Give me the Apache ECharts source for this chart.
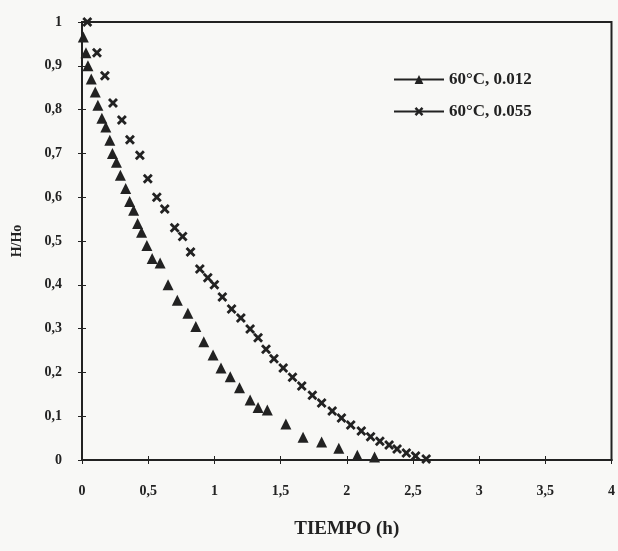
<!DOCTYPE html>
<html>
<head>
<meta charset="utf-8">
<script src="https://cdn.jsdelivr.net/npm/echarts@6/dist/echarts.min.js"></script>
<style>
  html, body { margin: 0; padding: 0; background: #f8f8f6; }
  #main { width: 618px; height: 551px; }
</style>
</head>
<body>
<div id="main"></div>
<script>
// 60°C, 0.012 (triangulos)
const tTri = [0.01, 0.03, 0.045, 0.07, 0.10, 0.12, 0.15, 0.18, 0.21, 0.23, 0.26, 0.29, 0.33, 0.36, 0.39, 0.42, 0.45, 0.49, 0.53, 0.59,
  0.65, 0.72, 0.80, 0.86, 0.92, 0.99, 1.05, 1.12, 1.19, 1.27, 1.33, 1.40, 1.54, 1.67, 1.81, 1.94, 2.08, 2.21];
const hTri = [0.966, 0.93, 0.90, 0.87, 0.84, 0.81, 0.78, 0.76, 0.73, 0.70, 0.68, 0.65, 0.62, 0.59, 0.57, 0.54, 0.52, 0.49, 0.46, 0.45,
  0.40, 0.365, 0.335, 0.305, 0.27, 0.24, 0.21, 0.19, 0.165, 0.137, 0.12, 0.114, 0.082, 0.052, 0.041, 0.027, 0.011, 0.007];

// 60°C, 0.055 (cruces)
const tCross = [0.04, 0.113, 0.173, 0.234, 0.301, 0.362, 0.437, 0.497, 0.565, 0.625, 0.70, 0.76, 0.82, 0.89, 0.95, 1.00,
  1.06, 1.13, 1.20, 1.27, 1.33, 1.39, 1.45, 1.52, 1.59, 1.66, 1.74, 1.81, 1.89, 1.96, 2.03, 2.11, 2.18, 2.25, 2.32, 2.38, 2.45, 2.52, 2.60];
const hCross = [1.0, 0.93, 0.877, 0.815, 0.776, 0.731, 0.696, 0.642, 0.60, 0.573, 0.53, 0.51, 0.475, 0.436, 0.416, 0.40,
  0.372, 0.345, 0.324, 0.299, 0.279, 0.253, 0.231, 0.21, 0.189, 0.169, 0.148, 0.13, 0.112, 0.096, 0.08, 0.066, 0.053, 0.043, 0.034, 0.025, 0.016, 0.009, 0.002];

const seriesNames = ["60°C, 0.012", "60°C, 0.055"];

const ink = "#222";
const font = "Liberation Serif";
const crossPath = "path://M2,0L5,3L8,0L10,2L7,5L10,8L8,10L5,7L2,10L0,8L3,5L0,2Z";
const comma = (v) => String(v).replace(".", ",");

const zip = (a, b) => a.map((x, i) => [x, b[i]]);

var myChart = echarts.init(document.getElementById("main"));

const baseX = {
  type: "value", min: 0, max: 4, interval: 0.5, position: "bottom",
  splitLine: { show: false },
  axisLine: { lineStyle: { color: ink, width: 2 } },
};
const baseY = {
  type: "value", min: 0, max: 1, interval: 0.1, position: "left",
  splitLine: { show: false },
  axisLine: { lineStyle: { color: ink, width: 2 } },
};

var option = {
  backgroundColor: "#f8f8f6",
  animation: false,
  grid: {
    left: 82, right: 5, top: 22, bottom: 91,
    show: true, borderColor: ink, borderWidth: 2,
  },
  legend: {
    left: 388, top: 66, orient: "vertical",
    itemWidth: 50, itemHeight: 11, itemGap: 15,
    textStyle: { fontFamily: font, fontWeight: "bold", fontSize: 17, color: ink },
    lineStyle: { width: 2, color: ink },
    data: seriesNames,
  },
  xAxis: [
    {
      ...baseX,
      name: "TIEMPO (h)", nameLocation: "middle", nameGap: 60,
      nameTextStyle: { fontFamily: font, fontWeight: "bold", fontSize: 19, color: ink },
      axisTick: { length: 4, lineStyle: { color: ink } },
      axisLabel: { margin: 24, fontFamily: font, fontWeight: "bold", fontSize: 14, color: ink, formatter: comma },
    },
    {
      ...baseX,
      axisTick: { inside: true, length: 4, lineStyle: { color: ink } },
      axisLabel: { show: false },
    },
  ],
  yAxis: [
    {
      ...baseY,
      name: "H/Ho", nameLocation: "middle", nameGap: 58, nameRotate: 90,
      nameTextStyle: { fontFamily: font, fontWeight: "bold", fontSize: 14, color: ink },
      axisTick: { length: 4, lineStyle: { color: ink } },
      axisLabel: { margin: 20, fontFamily: font, fontWeight: "bold", fontSize: 14, color: ink, formatter: comma },
    },
    {
      ...baseY,
      axisTick: { inside: true, length: 4, lineStyle: { color: ink } },
      axisLabel: { show: false },
    },
  ],
  series: [
    {
      name: seriesNames[0],
      type: "line",
      symbol: "triangle",
      symbolSize: 11,
      showAllSymbol: true,
      itemStyle: { color: ink },
      lineStyle: { width: 0 },
      data: zip(tTri, hTri),
    },
    {
      name: seriesNames[1],
      type: "line",
      symbol: crossPath,
      symbolSize: 10,
      showAllSymbol: true,
      itemStyle: { color: ink },
      lineStyle: { width: 0 },
      data: zip(tCross, hCross),
    },
  ],
};

option && myChart.setOption(option);
</script>
</body>
</html>
